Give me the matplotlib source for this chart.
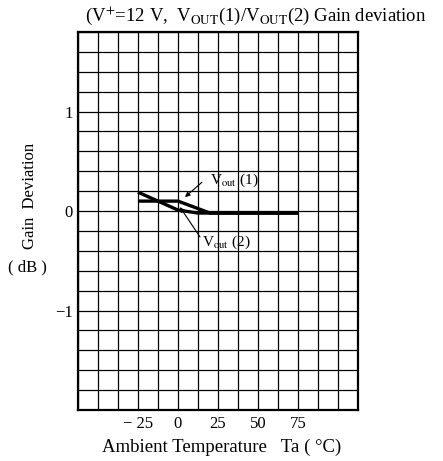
import matplotlib.pyplot as plt
import numpy as np

# Gain deviation vs ambient temperature
temp_1 = [-25, 0, 20, 75]
gain_1 = [0.10, 0.10, -0.02, -0.02]
temp_2 = [-25, 0, 12.5, 75]
gain_2 = [0.19, 0.01, -0.02, -0.02]

x_ticks = [-25, 0, 25, 50, 75]
x_tick_labels = ['\u2212 25', '0', '25', '50', '75']
y_ticks = [1, 0, -1]
y_tick_labels = ['1', '0', '\u22121']

plt.rcParams['font.family'] = ['Liberation Serif', 'DejaVu Serif']
plt.rcParams['mathtext.fontset'] = 'stix'

fig = plt.figure(figsize=(4.43, 4.61), dpi=100)
ax = fig.add_axes([0.176, 0.1106, 0.632, 0.82])

ax.set_xlim(-62.5, 112.5)
ax.set_ylim(-2.0, 1.8)
ax.set_xticks(np.arange(-62.5, 112.6, 12.5), minor=True)
ax.set_yticks(np.arange(-2.0, 1.81, 0.2), minor=True)
ax.grid(which='both', color='black', linewidth=0.9)
ax.set_xticks(x_ticks)
ax.set_xticklabels(x_tick_labels, fontsize=12)
ax.set_yticks(y_ticks)
ax.set_yticklabels(y_tick_labels, fontsize=12)
ax.tick_params(which='both', length=0, pad=4)
for s in ax.spines.values():
    s.set_linewidth(1.6)

ax.plot(temp_1, gain_1, color='black', linewidth=2.4, solid_capstyle='butt')
ax.plot(temp_2, gain_2, color='black', linewidth=2.4, solid_capstyle='butt')

arrow = dict(arrowstyle='-|>', color='black', linewidth=0.8, mutation_scale=7, shrinkA=0, shrinkB=0)
ax.annotate('', xy=(4.4, 0.14), xytext=(15, 0.29), arrowprops=arrow)
ax.annotate('', xy=(1.25, 0.04), xytext=(13.75, -0.26), arrowprops=arrow)
ax.text(20, 0.31, r'V$_{\rm out}$ (1)', fontsize=11, ha='left', va='center')
ax.text(15, -0.31, r'V$_{\rm out}$ (2)', fontsize=11, ha='left', va='center')

fig.text(0.578, 0.965, r'(V$^{+}$=12 V,  V$_{\rm OUT}$(1)/V$_{\rm OUT}$(2) Gain deviation',
         fontsize=13.5, ha='center', va='center')
fig.text(0.068, 0.575, 'Gain  Deviation', fontsize=12, rotation=90, ha='center', va='center')
fig.text(0.063, 0.42, '( dB )', fontsize=12, ha='center', va='center')
fig.text(0.50, 0.03, 'Ambient Temperature   Ta ( \u00b0C)', fontsize=13.5, ha='center', va='center')

plt.savefig('out.png', dpi=100)
